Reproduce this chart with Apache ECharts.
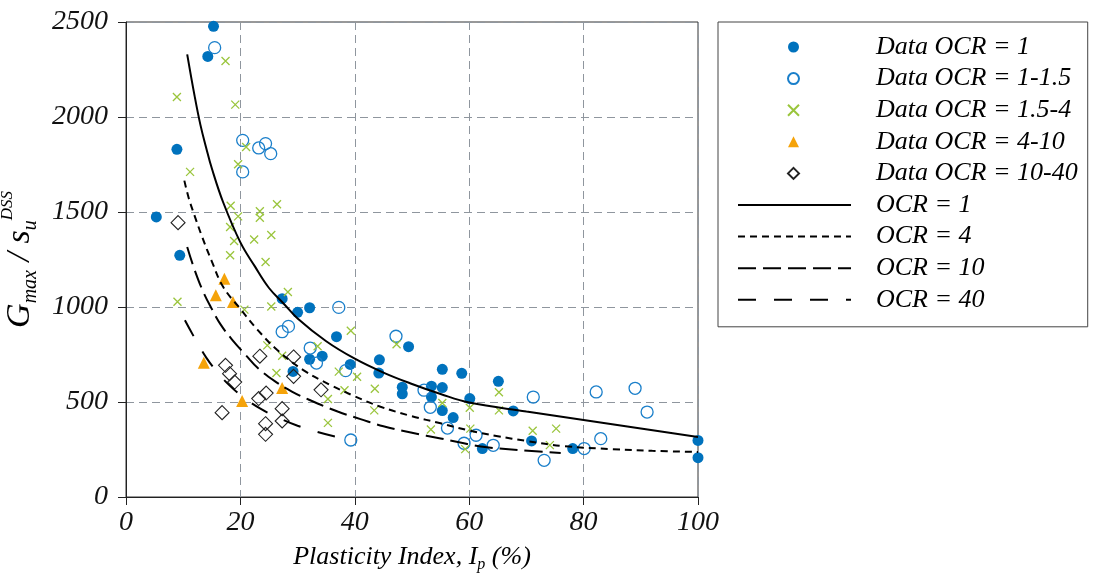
<!DOCTYPE html>
<html>
<head>
<meta charset="utf-8">
<style>
  html, body { margin: 0; padding: 0; background: #fff; }
  #chart { width: 1093px; height: 578px; }
</style>
<script src="https://cdn.jsdelivr.net/npm/echarts@6/dist/echarts.min.js"></script>
</head>
<body>
<div id="chart"></div>
<script>
// Measured data, [plasticity index (%), Gmax / su(DSS)]
const dataOcr1 = [
  [15.3, 2477], [14.3, 2319], [8.9, 1830], [5.3, 1474], [9.4, 1272], [27.3, 1044],
  [30.0, 972], [32.1, 996], [36.8, 844], [49.4, 791], [32.1, 725], [34.3, 741],
  [29.2, 661], [39.2, 698], [44.3, 722], [44.2, 652], [48.3, 578], [48.3, 543],
  [53.4, 583], [53.4, 526], [55.3, 672], [58.7, 651], [55.3, 576], [55.3, 455],
  [57.2, 418], [60.1, 518], [65.1, 609], [67.7, 453], [62.3, 255], [70.9, 295],
  [78.1, 255], [100, 298], [100, 207]
];
const dataOcr1to15 = [
  [15.5, 2365], [20.4, 1877], [23.2, 1837], [24.4, 1860], [25.3, 1807], [20.4, 1711],
  [37.2, 998], [28.4, 898], [27.3, 870], [47.2, 846], [32.2, 784], [33.3, 705],
  [38.4, 665], [39.3, 300], [52.1, 562], [53.2, 472], [56.2, 363], [59.1, 283],
  [61.2, 325], [64.2, 272], [71.2, 526], [82.2, 553], [89.0, 572], [91.1, 447],
  [83.0, 307], [80.1, 255], [73.1, 193]
];
const dataOcr15to4 = [
  [17.4, 2295], [8.9, 2105], [19.1, 2065], [21.0, 1842], [19.6, 1751], [11.2, 1711],
  [18.3, 1533], [26.4, 1541], [23.4, 1504], [23.4, 1470], [19.6, 1477], [18.2, 1421],
  [22.4, 1355], [25.4, 1379], [18.9, 1347], [18.2, 1272], [24.4, 1237], [28.3, 1079],
  [9.0, 1028], [25.4, 1003], [20.7, 986], [39.3, 875], [47.3, 804], [24.7, 798],
  [33.5, 793], [27.3, 743], [26.3, 653], [37.2, 660], [40.4, 633], [38.2, 562],
  [43.5, 570], [35.3, 516], [43.4, 456], [35.3, 390], [55.3, 495], [60.1, 470],
  [53.3, 355], [60.2, 360], [59.3, 252], [65.2, 551], [65.2, 456], [71.1, 349],
  [75.2, 360], [74.1, 273]
];
const dataOcr4to10 = [
  [17.2, 1149], [15.7, 1062], [18.7, 1026], [13.6, 707], [20.3, 505], [27.3, 574]
];
const dataOcr10to40 = [
  [9.1, 1444], [17.4, 693], [18.1, 649], [19.0, 605], [16.8, 444], [23.4, 741],
  [29.3, 737], [29.3, 635], [24.5, 547], [23.2, 518], [27.3, 465], [27.3, 400],
  [24.4, 386], [24.4, 330], [34.1, 564]
];

// Fitted trend curves, sampled along each line
const fitOcr1 = [
  [10.7, 2330], [12, 2110], [13, 1960], [14, 1840], [15, 1730], [17, 1550],
  [20, 1340], [22.5, 1215], [25, 1100], [27.5, 1020], [30, 940], [35, 820],
  [40, 728], [45, 655], [50, 595], [55, 542], [60, 497], [70, 450], [80, 405],
  [90, 360], [100, 316]
];
const fitOcr4 = [
  [10.2, 1665], [11, 1570], [12, 1480], [13.3, 1370], [15, 1240], [17, 1105],
  [20, 990], [23, 880], [26.4, 775], [31, 668], [35.7, 590], [40, 530],
  [44.5, 475], [50, 425], [55, 388], [60, 350], [65, 320], [70, 295],
  [76.5, 268], [85, 252], [92, 243], [100, 237]
];
const fitOcr10 = [
  [10.7, 1316], [12, 1195], [13.5, 1080], [15, 990], [16.5, 910], [18.5, 830],
  [21, 745], [23, 680], [26, 610], [29, 555], [32, 512], [37, 450], [41, 410],
  [45, 372], [50, 338], [55, 308], [58, 290], [62, 266], [68.5, 247], [76, 232]
];
const fitOcr40 = [
  [10.3, 930], [11.2, 880], [12.5, 810], [14, 735], [16, 655], [18, 590],
  [20.3, 530], [23.5, 465], [26.4, 421], [30, 375], [33.5, 342], [37, 315],
  [39.6, 300]
];

const xRange = { min: 0, max: 100, step: 20 };
const yRange = { min: 0, max: 2500, step: 500 };

const scatterNames = [
  'Data OCR = 1', 'Data OCR = 1-1.5', 'Data OCR = 1.5-4', 'Data OCR = 4-10', 'Data OCR = 10-40'
];
const fitNames = ['OCR = 1', 'OCR = 4', 'OCR = 10', 'OCR = 40'];

const serif = '"Liberation Serif", "DejaVu Serif", serif';
const crossPath = 'path://M0,0L10,10M0,10L10,0';

const gridLineStyle = { color: '#8f969e', width: 1, type: [8, 5] };

const legendText = {
  fontFamily: serif, fontStyle: 'italic', fontSize: 26, color: '#000', lineHeight: 30
};
const rowHeight = 31.6;

function fitSeries(name, pts, dash) {
  return {
    name: name,
    type: 'line',
    data: pts,
    smooth: 0.4,
    symbol: 'none',
    showSymbol: false,
    z: 4,
    lineStyle: { color: '#000', width: 2, type: dash },
    itemStyle: { color: 'rgba(0,0,0,0)' }
  };
}

const chart = echarts.init(document.getElementById('chart'), null, { renderer: 'canvas' });

chart.setOption({
  animation: false,
  backgroundColor: '#fff',
  grid: {
    left: 126, right: 395, top: 22, bottom: 81,
    containLabel: false,
    outerBoundsMode: 'none',
    show: true, borderColor: '#333', borderWidth: 1, backgroundColor: 'transparent'
  },
  legend: [
    {
      // marker entries; its frame also encloses the curve entries below
      data: scatterNames,
      orient: 'vertical',
      left: 718, top: 22,
      padding: [10, 10, 12 + rowHeight * fitNames.length, 69],
      itemWidth: 11,
      itemHeight: 11,
      itemGap: rowHeight - 30,
      borderColor: '#444', borderWidth: 1,
      selectedMode: false,
      textStyle: Object.assign({ padding: [0, 0, 0, 72] }, legendText)
    },
    {
      data: fitNames,
      orient: 'vertical',
      left: 737, top: 32 + rowHeight * scatterNames.length,
      padding: 0,
      itemWidth: 113,
      itemHeight: 10,
      itemGap: rowHeight - 30,
      selectedMode: false,
      itemStyle: { opacity: 0 },
      textStyle: Object.assign({ padding: [0, 0, 0, 20] }, legendText)
    }
  ],
  xAxis: {
    type: 'value',
    min: xRange.min, max: xRange.max, interval: xRange.step,
    name: '{t|Plasticity Index, I}{sub|p}{t| (%)}',
    nameLocation: 'middle',
    nameGap: 44,
    nameTextStyle: {
      rich: {
        t: { fontFamily: serif, fontStyle: 'italic', fontSize: 26, color: '#000', lineHeight: 32 },
        sub: { fontFamily: serif, fontStyle: 'italic', fontSize: 16, color: '#000',
               verticalAlign: 'bottom', lineHeight: 16 }
      }
    },
    axisLine: { show: true, lineStyle: { color: '#222', width: 1 } },
    axisTick: { show: true, inside: false, length: 8, lineStyle: { color: '#222' } },
    axisLabel: {
      margin: 12, fontFamily: serif, fontStyle: 'italic', fontSize: 28, color: '#111',
      formatter: v => String(v)
    },
    splitLine: { show: true, lineStyle: gridLineStyle }
  },
  yAxis: {
    type: 'value',
    min: yRange.min, max: yRange.max, interval: yRange.step,
    name: '{g|G}{sub|max}{g| / s}{sub|u}{sup|DSS}',
    nameLocation: 'middle',
    nameGap: 76,
    nameRotate: 90,
    nameTextStyle: {
      rich: {
        g: { fontFamily: serif, fontStyle: 'italic', fontSize: 34, color: '#000', lineHeight: 42 },
        sub: { fontFamily: serif, fontStyle: 'italic', fontSize: 20, color: '#000',
               verticalAlign: 'bottom', lineHeight: 20 },
        sup: { fontFamily: serif, fontStyle: 'italic', fontSize: 17, color: '#000',
               verticalAlign: 'top', lineHeight: 17 }
      }
    },
    axisLine: { show: true, lineStyle: { color: '#222', width: 1 } },
    axisTick: { show: true, inside: false, length: 8, lineStyle: { color: '#222' } },
    axisLabel: {
      margin: 18, fontFamily: serif, fontStyle: 'italic', fontSize: 28, color: '#111',
      formatter: v => String(v)
    },
    splitLine: { show: true, lineStyle: gridLineStyle }
  },
  series: [
    {
      name: 'Data OCR = 1', type: 'scatter', data: dataOcr1,
      symbol: 'circle', symbolSize: 11, z: 3,
      itemStyle: { color: '#0072bd', borderColor: '#0072bd', borderWidth: 0, opacity: 1 }
    },
    {
      name: 'Data OCR = 1-1.5', type: 'scatter', data: dataOcr1to15,
      symbol: 'circle', symbolSize: 12, z: 3,
      itemStyle: { color: 'rgba(255,255,255,0)', borderColor: '#1a7fca', borderWidth: 1.3, opacity: 1 }
    },
    {
      name: 'Data OCR = 1.5-4', type: 'scatter', data: dataOcr15to4,
      symbol: crossPath, symbolSize: 8, z: 3,
      itemStyle: { color: 'rgba(255,255,255,0)', borderColor: '#9ac53c', borderWidth: 1.3, opacity: 1 }
    },
    {
      name: 'Data OCR = 4-10', type: 'scatter', data: dataOcr4to10,
      symbol: 'triangle', symbolSize: 12, symbolKeepAspect: true, z: 3,
      itemStyle: { color: '#f5a30a', borderColor: '#f5a30a', borderWidth: 0, opacity: 1 }
    },
    {
      name: 'Data OCR = 10-40', type: 'scatter', data: dataOcr10to40,
      symbol: 'diamond', symbolSize: 14, symbolKeepAspect: true, z: 3,
      itemStyle: { color: 'rgba(255,255,255,0)', borderColor: '#222', borderWidth: 1.1, opacity: 1 }
    },
    fitSeries('OCR = 1', fitOcr1, 'solid'),
    fitSeries('OCR = 4', fitOcr4, [7, 5]),
    fitSeries('OCR = 10', fitOcr10, [18, 7]),
    fitSeries('OCR = 40', fitOcr40, [18, 18])
  ]
});
</script>
</body>
</html>
